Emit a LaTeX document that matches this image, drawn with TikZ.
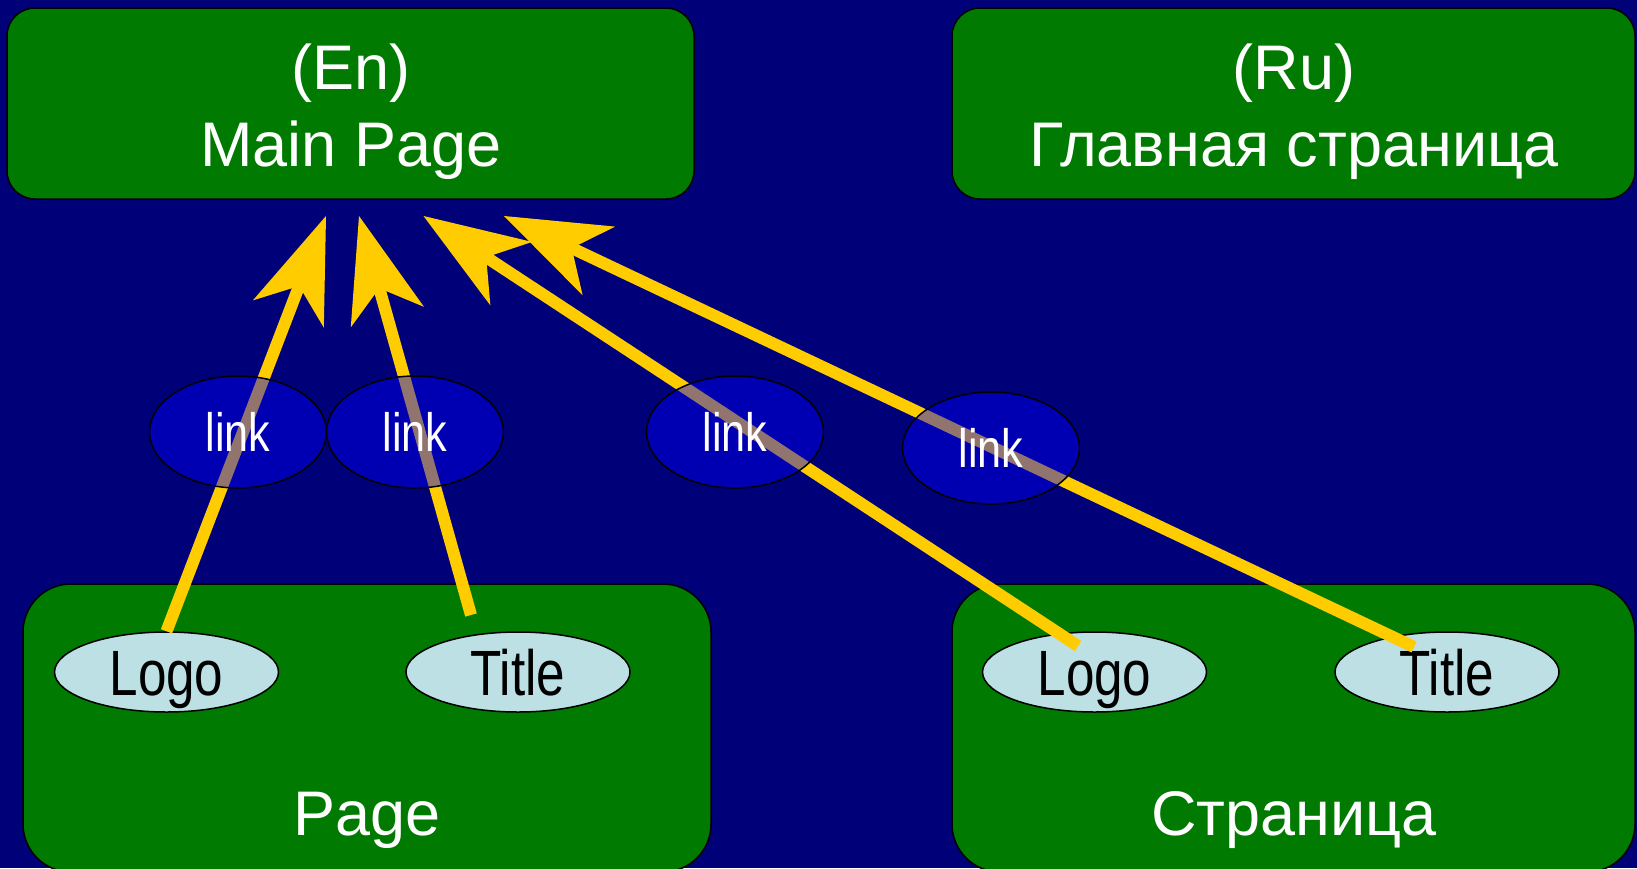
\documentclass[tikz,border=0pt]{standalone}
\usepackage{fontspec}
\setmainfont{Liberation Sans}
\newfontfamily\narrowfont[FakeStretch=0.8]{Liberation Sans}
\usetikzlibrary{arrows.meta,shapes.geometric}
\definecolor{bgnavy}{RGB}{0,0,120}
\definecolor{boxgreen}{RGB}{0,122,0}
\definecolor{arrowyellow}{RGB}{255,204,0}
\definecolor{lightcyan}{RGB}{188,224,228}
\tikzset{
  boxbase/.style={draw=black, line width=1.5pt, fill=boxgreen, inner sep=0pt},
  topbox/.style={boxbase, rounded corners=28pt, minimum height=191pt},
  botbox/.style={boxbase, rounded corners=48pt, minimum height=288pt},
  wtext/.style={text=white, font=\fontsize{63}{76}\selectfont, inner sep=0pt, anchor=base},
  partell/.style={ellipse, draw=black, line width=1.5pt, fill=lightcyan, minimum width=224pt, minimum height=80pt, inner sep=0pt, font=\narrowfont\fontsize{64}{64}\selectfont, text height=46pt, text depth=0pt},
  linkell/.style={ellipse, draw=black, line width=1.5pt, fill=blue, fill opacity=0.43, text opacity=1, text=white, minimum width=177pt, minimum height=112pt, inner sep=0pt, font=\narrowfont\fontsize{54}{54}\selectfont, text height=39pt, text depth=0pt},
  linkarrow/.style={draw=arrowyellow, line width=12pt, -{Stealth[length=105pt, width=76pt, inset=30pt, line width=0pt]}}
}
\begin{document}
\begin{tikzpicture}[x=1pt,y=-1pt]
\fill[bgnavy] (0,0) rectangle (1637,868);
\useasboundingbox (0,0) rectangle (1637,868);
\begin{scope}
\clip (0,0) rectangle (1637,868);
% boxes
\node[topbox, minimum width=687pt] (en) at (350.5,103.5) {};
\node[topbox, minimum width=683pt] (ru) at (1293.5,103.5) {};
\node[botbox, minimum width=688pt] (pageL) at (367,728) {};
\node[botbox, minimum width=683pt] (pageR) at (1293.5,728) {};
\end{scope}
% box texts
\node[wtext] (enA) at (351,89) {(En)};
\node[wtext] (enB) at (351,166) {Main Page};
\node[wtext] (ruA) at (1294,89) {(Ru)};
\node[wtext] (ruB) at (1294,166) {Главная страница};
\node[wtext] (pgL) at (367,835) {Page};
\node[wtext] (pgR) at (1294,835) {Страница};
% parts
\node[partell] (logoL) at (166.5,672) {Logo};
\node[partell] (titleL) at (518,672) {Title};
\node[partell] (logoR) at (1094.5,672) {Logo};
\node[partell] (titleR) at (1447,672) {Title};
% arrow ends
\coordinate (t1) at (326,216);
\coordinate (t2) at (359,216);
\coordinate (t3) at (423.5,216);
\coordinate (t4) at (504,216);
\coordinate (s2) at (471,615);
\coordinate (s3) at (1078,646);
\coordinate (s4) at (1414,647);
\draw[linkarrow] (logoL.north) -- (t1);
\draw[linkarrow] (s2) -- (t2);
\draw[linkarrow] (s3) -- (t3);
\draw[linkarrow] (s4) -- (t4);
% links
\node[linkell] (l1) at (238,432) {link};
\node[linkell] (l2) at (415,432) {link};
\node[linkell] (l3) at (735,432) {link};
\node[linkell] (l4) at (991,448) {link};
\end{tikzpicture}
\end{document}
